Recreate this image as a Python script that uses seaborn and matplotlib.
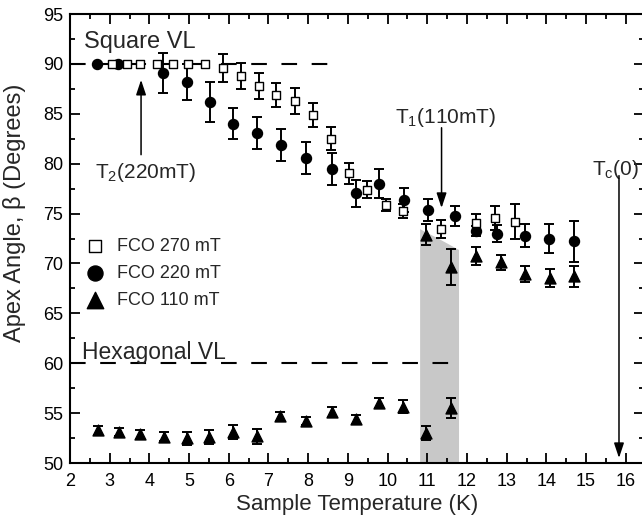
import numpy as np
import pandas as pd
import matplotlib
matplotlib.use("Agg")
import matplotlib.pyplot as plt
from matplotlib.ticker import MultipleLocator
import seaborn as sns

# ---- data ----
# FCO 270 mT (open squares)
t_270 = [3.05, 3.43, 3.76, 4.18, 4.60, 4.98, 5.40, 5.86, 6.32, 6.76, 7.20,
         7.66, 8.11, 8.58, 9.02, 9.47, 9.96, 10.39, 11.35, 12.24, 12.71, 13.21]
b_270 = [90.0, 90.0, 90.0, 90.0, 90.0, 90.0, 90.0, 89.56, 88.8, 87.75, 86.9,
         86.3, 84.85, 82.5, 79.04, 77.4, 75.86, 75.3, 73.43, 74.1, 74.6, 74.2]
e_270 = [0, 0, 0, 0, 0, 0, 0, 1.4, 1.3, 1.3, 1.2,
         1.3, 1.2, 1.15, 1.05, 0.85, 0.6, 0.7, 0.9, 0.85, 1.2, 1.8]

# FCO 220 mT (filled circles)
t_220 = [2.69, 3.22, 4.35, 4.94, 5.53, 6.10, 6.72, 7.31, 7.94, 8.59, 9.20,
         9.79, 10.41, 11.03, 11.70, 12.24, 12.76, 13.46, 14.07, 14.70]
b_220 = [90.0, 90.0, 89.1, 88.2, 86.2, 84.0, 83.05, 81.9, 80.55, 79.5, 77.05,
         77.97, 76.36, 75.36, 74.72, 73.3, 73.0, 72.8, 72.5, 72.2]
e_220 = [0, 0, 2.0, 1.8, 2.0, 1.55, 1.6, 1.6, 1.6, 1.6, 1.35,
         1.45, 1.2, 1.1, 1.0, 0.5, 0.85, 1.15, 1.5, 2.1]

# FCO 110 mT (filled triangles), hexagonal branch then square branch
t_110 = [2.70, 3.24, 3.76, 4.38, 4.96, 5.51, 6.10, 6.72, 7.29, 7.94, 8.59,
         9.20, 9.79, 10.40, 10.98, 11.61,
         10.98, 11.60, 12.24, 12.85, 13.46, 14.09, 14.70]
b_110 = [53.3, 53.15, 52.9, 52.65, 52.5, 52.6, 53.15, 52.7, 54.7, 54.25, 55.15,
         54.4, 56.0, 55.65, 53.0, 55.5,
         72.86, 69.6, 70.7, 70.1, 68.9, 68.5, 68.7]
e_110 = [0.45, 0.4, 0.45, 0.45, 0.65, 0.7, 0.7, 0.75, 0.45, 0.4, 0.5,
         0.45, 0.5, 0.65, 0.7, 1.0,
         1.05, 1.8, 0.9, 0.75, 0.8, 0.9, 1.05]

# coexistence region (shaded) outline
shade_t = [10.82, 10.82, 11.32, 11.80, 11.80]
shade_b = [50.0, 73.43, 72.4, 71.35, 50.0]

fields = ['FCO 270 mT', 'FCO 220 mT', 'FCO 110 mT']

df = pd.concat([
    pd.DataFrame({'T': t_270, 'beta': b_270, 'err': e_270, 'field': fields[0]}),
    pd.DataFrame({'T': t_220, 'beta': b_220, 'err': e_220, 'field': fields[1]}),
    pd.DataFrame({'T': t_110, 'beta': b_110, 'err': e_110, 'field': fields[2]}),
], ignore_index=True)

sns.set_style('ticks')
plt.rcParams['font.family'] = ['Liberation Sans', 'DejaVu Sans']
plt.rcParams['mathtext.fontset'] = 'custom'
plt.rcParams['mathtext.rm'] = 'Liberation Sans'
plt.rcParams['mathtext.it'] = 'Liberation Sans'

fig = plt.figure(figsize=(6.42, 5.24), dpi=100)
ax = fig.add_axes([70 / 642, 61 / 524, 574 / 642, 449 / 524])

ax.fill(shade_t, shade_b, color='#c8c8c8', lw=0, zorder=0)

dash = dict(color='black', lw=1.5, dashes=(7.5, 7), zorder=1)
ax.plot([2.0, 8.73], [90, 90], **dash)
ax.plot([2.0, 11.82], [60, 60], **dash)

styles = {
    'FCO 220 mT': dict(marker='o', s=52, color='black', z=3),
    'FCO 110 mT': dict(marker='^', s=62, color='black', z=4),
    'FCO 270 mT': dict(marker='s', s=38, color='white', z=5),
}
for name, st in styles.items():
    sub = df[df['field'] == name]
    has = sub[sub['err'] > 0]
    ax.errorbar(has['T'], has['beta'], yerr=has['err'], fmt='none', ecolor='black',
                elinewidth=1.4, capsize=3.6, capthick=1.4, zorder=st['z'] - 0.5)
    sns.scatterplot(data=sub, x='T', y='beta', marker=st['marker'], s=st['s'],
                    color=st['color'], edgecolor='black', linewidth=1.0,
                    label=name, zorder=st['z'], ax=ax)

ax.set_xlim(2, 16.46)
ax.set_ylim(50, 95)
ax.xaxis.set_major_locator(MultipleLocator(1))
ax.xaxis.set_minor_locator(MultipleLocator(0.5))
ax.yaxis.set_major_locator(MultipleLocator(5))
ax.yaxis.set_minor_locator(MultipleLocator(2.5))
ax.tick_params(which='both', direction='in', top=True, right=True, width=1.3,
               colors='black', labelsize=13)
ax.tick_params(which='major', length=7, pad=7)
ax.tick_params(which='minor', length=3.5)
ax.tick_params(axis='y', which='major', pad=5)
for sp in ax.spines.values():
    sp.set_linewidth(1.5)
    sp.set_color('black')

ax.set_xlabel('Sample Temperature (K)', fontsize=16, labelpad=3)
ax.set_ylabel('Apex Angle, β (Degrees)', fontsize=17)
ax.yaxis.set_label_coords(-0.077, 0.557)

ax.text(2.35, 91.6, 'Square VL', fontsize=17)
ax.text(2.29, 60.43, 'Hexagonal VL', fontsize=16.5)
ax.text(2.63, 78.6, r'$\mathregular{T_2}$(220mT)', fontsize=15)
ax.text(10.19, 84.1, r'$\mathregular{T_1}$(110mT)', fontsize=15)
ax.text(15.14, 78.9, r'$\mathregular{T_c}$(0)', fontsize=15)

arr = dict(arrowstyle='-|>,head_length=0.6,head_width=0.2', color='black', lw=1.1,
           shrinkA=0, shrinkB=0, mutation_scale=15)
ax.annotate('', xy=(3.79, 88.4), xytext=(3.79, 80.9), arrowprops=arr)
ax.annotate('', xy=(11.36, 75.56), xytext=(11.36, 83.6), arrowprops=arr)
ax.annotate('', xy=(15.83, 50.5), xytext=(15.83, 78.8), arrowprops=arr)

handles, labels = ax.get_legend_handles_labels()
order = [labels.index(f) for f in fields]
ax.legend([handles[i] for i in order], [labels[i] for i in order],
          loc='upper left', bbox_to_anchor=(0.028, 0.501), frameon=False,
          fontsize=13, handlelength=1.0, handletextpad=0.7, labelspacing=0.55,
          borderpad=0, borderaxespad=0, markerscale=1.5)

fig.savefig('out.png', dpi=100)
